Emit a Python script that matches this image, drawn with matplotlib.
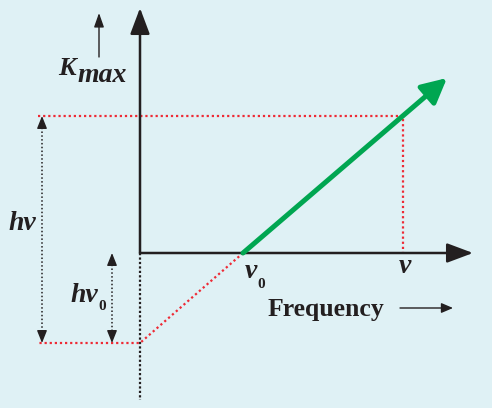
import matplotlib.pyplot as plt

# diagram units: origin at the axes corner, 1 unit ~ 1 px
nu0 = 103          # threshold frequency
nu = 263           # chosen frequency
hnu0 = 90          # work function (below the axis)
kmax_at_nu = 137   # K_max at nu

green_x = [103, 307]
green_y = [0, 175]

kline_x = [-102, 263, 263]
kline_y = [137, 137, 0]

extrap_x = [103, 0, -102]
extrap_y = [0, -90, -90]

bg = "#dff1f5"
black = "#231f20"
red = "#ee2a35"
green = "#00a651"

fig = plt.figure(figsize=(4.92, 4.08), dpi=100, facecolor=bg)
ax = fig.add_axes([0, 0, 1, 1])
ax.set_facecolor(bg)
ax.set_xlim(-140, 352)
ax.set_ylim(-155, 253)
ax.axis("off")

def arrow(x0, y0, x1, y1, lw, color, ms=20, hl=0.8, hw=0.3):
    ax.annotate("", xy=(x1, y1), xytext=(x0, y0),
                arrowprops=dict(arrowstyle=f"-|>,head_length={hl},head_width={hw}",
                                lw=lw, color=color, shrinkA=0, shrinkB=0,
                                mutation_scale=ms))

# red dotted guides
ax.plot(kline_x, kline_y, ls=(0, (1, 1.3)), lw=1.6, color=red)
ax.plot(extrap_x, extrap_y, ls=(0, (1, 1.3)), lw=1.6, color=red)

# axes
ax.plot([0, 0], [0, -147], ls=(0, (1, 1)), lw=1.6, color=black)
arrow(0, 0, 0, 245, 1.8, black)
arrow(0, 0, 333, 0, 1.8, black)

# green line
arrow(green_x[0], green_y[0], green_x[1], green_y[1], 3.6, green, ms=20, hl=0.75, hw=0.38)

# dotted double arrows for h nu and h nu0
for x, top, bot in [(-98, kmax_at_nu, -hnu0), (-28, 0, -hnu0)]:
    ax.plot([x, x], [top - 4, bot + 4], ls=(0, (1, 1.5)), lw=1.1, color=black)
    arrow(x, top - 10, x, top, 1.0, black, ms=10, hl=0.75, hw=0.3)
    arrow(x, bot + 10, x, bot, 1.0, black, ms=10, hl=0.75, hw=0.3)

# K_max arrow
arrow(-41, 196, -41, 240, 1.0, black, ms=10, hl=0.85, hw=0.3)

bi = dict(family="Liberation Serif", weight="bold", style="italic", color=black)
sub = dict(family="Liberation Serif", weight="bold", color=black)
ax.text(-82, 178, "K", fontsize=19, va="baseline", ha="left", **bi)
ax.text(-63, 171, "max", fontsize=20, va="baseline", ha="left", **bi)
ax.text(-132, 23, "hν", fontsize=20, va="baseline", ha="left", **bi)
ax.text(-70, -49, "hν", fontsize=20, va="baseline", ha="left", **bi)
ax.text(-42, -57, "0", fontsize=11, va="baseline", ha="left", **sub)
ax.text(105, -25, "ν", fontsize=20, va="baseline", ha="left", **bi)
ax.text(117, -35, "0", fontsize=11, va="baseline", ha="left", **sub)
ax.text(265, -20, "ν", fontsize=20, va="baseline", ha="center", **bi)
ax.text(128, -63, "Frequency", fontsize=18.5, va="baseline", ha="left",
        family="Liberation Serif", weight="bold", color=black)
arrow(260, -55, 313, -55, 1.0, black, ms=10, hl=0.7, hw=0.3)

fig.savefig("out.png", dpi=100, facecolor=bg)
